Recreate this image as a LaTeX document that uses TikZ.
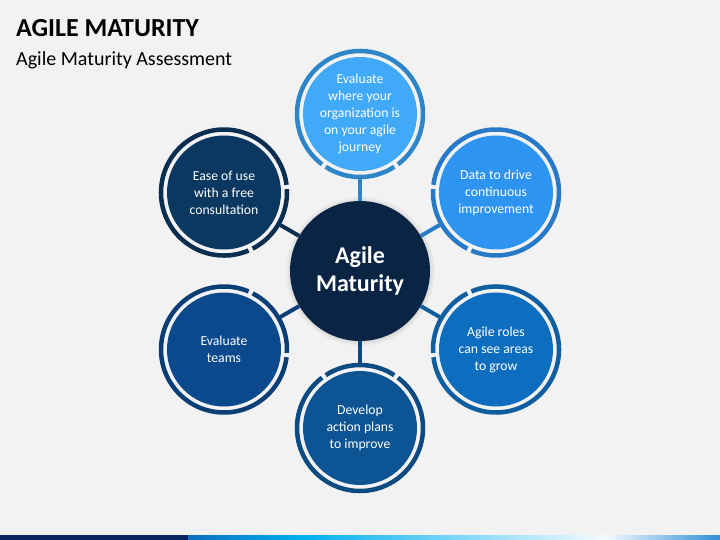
\documentclass[tikz,border=0pt]{standalone}
\usepackage{fontspec}
\setmainfont{Carlito}
\usetikzlibrary{shadows}
\definecolor{bgGray}{HTML}{F2F2F2}
\definecolor{hubNavy}{HTML}{0A2444}
\definecolor{fillA}{HTML}{41AAF8}
\definecolor{ringA}{HTML}{2E86C8}
\definecolor{fillB}{HTML}{2D94F0}
\definecolor{ringB}{HTML}{287AC8}
\definecolor{fillC}{HTML}{0D6EC0}
\definecolor{ringC}{HTML}{0E5EA0}
\definecolor{fillD}{HTML}{0C5494}
\definecolor{ringD}{HTML}{0C4A82}
\definecolor{fillE}{HTML}{0C488C}
\definecolor{ringE}{HTML}{0C3E76}
\definecolor{fillF}{HTML}{0A3860}
\definecolor{ringF}{HTML}{0A2E50}
\definecolor{barNavy}{HTML}{0B2462}
\definecolor{barBlue}{HTML}{0F6EC0}
\definecolor{barCyan}{HTML}{00B0F0}
\definecolor{barPale}{HTML}{F5FBFF}
\definecolor{barEnd}{HTML}{2E8FD8}
\tikzset{
  sat/.style={circle, minimum size=114pt, inner sep=0pt, outer sep=8pt,
    text=white, align=center, font=\fontsize{13.7}{17}\selectfont},
  hub/.style={circle, minimum size=140pt, inner sep=0pt, fill=hubNavy,
    text=white, align=center, font=\fontsize{24}{28}\selectfont\bfseries,
    circular drop shadow={shadow xshift=0pt, shadow yshift=0pt, shadow scale=1.07, opacity=0.45}},
  ring/.style={line width=4.5pt},
  link/.style={line width=4pt},
}
\begin{document}
\begin{tikzpicture}[x=1pt,y=-1pt]
  \fill[bgGray] (0,0) rectangle (720,540);
  \useasboundingbox (0,0) rectangle (720,540);

  \node[anchor=base west, inner sep=0pt, font=\fontsize{26}{30}\selectfont\bfseries] (title) at (16,37) {AGILE MATURITY};
  \node[anchor=base west, inner sep=0pt, font=\fontsize{20}{24}\selectfont] (subtitle) at (16,66) {Agile Maturity Assessment};

  \node[sat, fill=fillA] (sA) at (360,114) {Evaluate\\where your\\organization is\\on your agile\\journey};
  \node[sat, fill=fillB] (sB) at (496,192.5) {Data to drive\\continuous\\improvement};
  \node[sat, fill=fillC] (sC) at (496,349.5) {Agile roles\\can see areas\\to grow};
  \node[sat, fill=fillD] (sD) at (360,428) {Develop\\action plans\\to improve};
  \node[sat, fill=fillE] (sE) at (224,349.5) {Evaluate\\teams};
  \node[sat, fill=fillF] (sF) at (224,192.5) {Ease of use\\with a free\\consultation};

  \draw[ring, ringA] (sA.center) ++(127:63) arc[start angle=127, end angle=413, radius=63];
  \draw[ring, ringA] (sA.center) ++(57:63) arc[start angle=57, end angle=123, radius=63];
  \draw[ring, ringB] (sB.center) ++(187:63) arc[start angle=187, end angle=473, radius=63];
  \draw[ring, ringB] (sB.center) ++(117:63) arc[start angle=117, end angle=183, radius=63];
  \draw[ring, ringC] (sC.center) ++(247:63) arc[start angle=247, end angle=533, radius=63];
  \draw[ring, ringC] (sC.center) ++(177:63) arc[start angle=177, end angle=243, radius=63];
  \draw[ring, ringD] (sD.center) ++(307:63) arc[start angle=307, end angle=593, radius=63];
  \draw[ring, ringD] (sD.center) ++(237:63) arc[start angle=237, end angle=303, radius=63];
  \draw[ring, ringE] (sE.center) ++(7:63) arc[start angle=7, end angle=293, radius=63];
  \draw[ring, ringE] (sE.center) ++(-63:63) arc[start angle=-63, end angle=3, radius=63];
  \draw[ring, ringF] (sF.center) ++(67:63) arc[start angle=67, end angle=353, radius=63];
  \draw[ring, ringF] (sF.center) ++(-3:63) arc[start angle=-3, end angle=63, radius=63];

  \node[hub] (hub) at (360,271) {Agile\\Maturity};

  \draw[link, ringA] (sA) -- (hub);
  \draw[link, ringB] (sB) -- (hub);
  \draw[link, ringC] (sC) -- (hub);
  \draw[link, ringD] (sD) -- (hub);
  \draw[link, ringE] (sE) -- (hub);
  \draw[link, ringF] (sF) -- (hub);

  \fill[barNavy] (0,535) rectangle (188,540);
  \shade[left color=barBlue, right color=barCyan] (188,535) rectangle (303,540);
  \shade[left color=barCyan, right color=barPale] (303,535) rectangle (605,540);
  \shade[left color=barPale, right color=barEnd] (605,535) rectangle (720,540);
\end{tikzpicture}
\end{document}
